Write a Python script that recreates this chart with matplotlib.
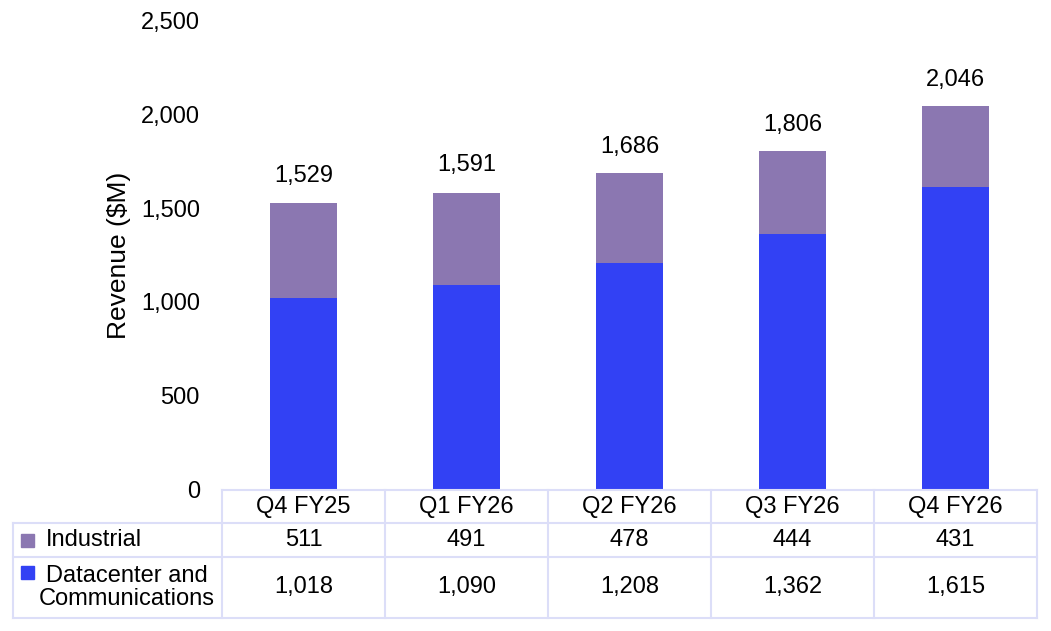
import matplotlib
matplotlib.use("Agg")
import matplotlib.pyplot as plt
from matplotlib.patches import Rectangle

plt.rcParams['font.family'] = ['Liberation Sans', 'DejaVu Sans']

# data
quarters = ["Q4 FY25", "Q1 FY26", "Q2 FY26", "Q3 FY26", "Q4 FY26"]
datacenter = [1018, 1090, 1208, 1362, 1615]
industrial = [511, 491, 478, 444, 431]
totals = [1529, 1591, 1686, 1806, 2046]
yticks = [0, 500, 1000, 1500, 2000, 2500]

c_ind = "#8b77b1"
c_dc = "#3241f4"
c_grid = "#dcdef8"
fs = 17

W, H = 1051, 631
fig = plt.figure(figsize=(W / 100, H / 100), dpi=100)

# main bar axes (pixel box 222..1037 x 21..489)
ax = fig.add_axes([222 / W, (H - 489) / H, (1037 - 222) / W, (489 - 21) / H])
x = list(range(len(quarters)))
ax.bar(x, datacenter, width=0.41, color=c_dc)
ax.bar(x, industrial, width=0.41, bottom=datacenter, color=c_ind)

for xi, t in zip(x, totals):
    ax.annotate(f"{t:,}", (xi, t), xytext=(0, 19), textcoords="offset points",
                ha="center", va="center", fontsize=fs)

ax.set_xlim(-0.5, len(quarters) - 0.5)
ax.set_ylim(0, 2500)
ax.set_yticks(yticks)
ax.set_yticklabels([f"{v:,}" for v in yticks], fontsize=fs)
ax.set_xticks([])
ax.tick_params(axis="y", length=0, pad=16)
for s in ax.spines.values():
    s.set_visible(False)
ax.set_ylabel("Revenue ($M)", fontsize=19)
ax.yaxis.set_label_coords(-0.112, 0.5)

# data table below (pixel box 13..1037 x 490..618)
tax = fig.add_axes([13 / W, (H - 618) / H, (1037 - 13) / W, (618 - 490) / H])
unit = (1037 - 222) / len(quarters)
left = len(quarters) - 0.5 - (1037 - 13) / unit
tax.set_xlim(left, len(quarters) - 0.5)
tax.set_ylim(128, 0)
tax.axis("off")

rows = [0, 33, 67, 128]
lw = 1.5
tax.plot([-0.5, len(quarters) - 0.5], [rows[0], rows[0]], color=c_grid, lw=lw, clip_on=False)
for r in rows[1:]:
    tax.plot([left, len(quarters) - 0.5], [r, r], color=c_grid, lw=lw, clip_on=False)
tax.plot([left, left], [rows[1], rows[3]], color=c_grid, lw=lw, clip_on=False)
for i in range(len(quarters) + 1):
    tax.plot([i - 0.5, i - 0.5], [rows[0], rows[3]], color=c_grid, lw=lw, clip_on=False)

for i, q in enumerate(quarters):
    tax.text(i, (rows[0] + rows[1]) / 2, q, ha="center", va="center", fontsize=fs)
    tax.text(i, (rows[1] + rows[2]) / 2, f"{industrial[i]:,}", ha="center", va="center", fontsize=fs)
    tax.text(i, (rows[2] + rows[3]) / 2, f"{datacenter[i]:,}", ha="center", va="center", fontsize=fs)

# row labels with legend swatches
px = 1 / unit
tax.add_patch(Rectangle((left + 8 * px, 44), 13 * px, 13, color=c_ind, clip_on=False))
tax.text(left + 33 * px, (rows[1] + rows[2]) / 2, "Industrial", ha="left", va="center", fontsize=fs)
tax.add_patch(Rectangle((left + 8 * px, 76), 13 * px, 13, color=c_dc, clip_on=False))
tax.text(left + 114 * px, (rows[2] + rows[3]) / 2, "Datacenter and\nCommunications",
         ha="center", va="center", fontsize=fs, multialignment="center", linespacing=1.1)

fig.savefig("out.png", dpi=100)
